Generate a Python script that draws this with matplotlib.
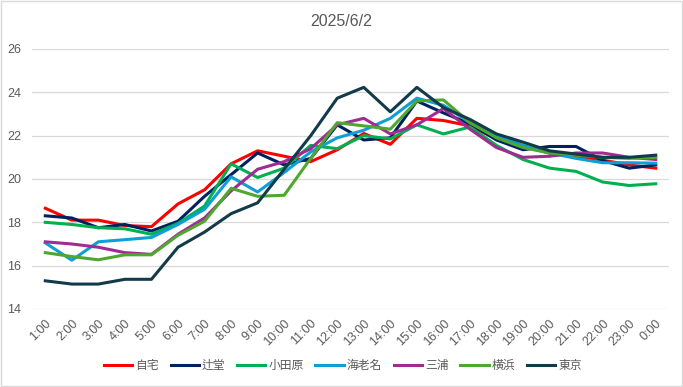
import matplotlib.pyplot as plt
from matplotlib.patches import Rectangle

plt.rcParams['font.family'] = ['Liberation Sans', 'Noto Sans CJK JP', 'DejaVu Sans']

hours = ['1:00', '2:00', '3:00', '4:00', '5:00', '6:00', '7:00', '8:00', '9:00', '10:00',
         '11:00', '12:00', '13:00', '14:00', '15:00', '16:00', '17:00', '18:00', '19:00',
         '20:00', '21:00', '22:00', '23:00', '0:00']

jitaku = [18.65, 18.1, 18.1, 17.85, 17.8, 18.85, 19.5, 20.7, 21.3, 21.05, 20.8, 21.35,
          22.1, 21.6, 22.8, 22.7, 22.45, 21.85, 21.5, 21.2, 21.05, 20.87, 20.65, 20.5]
tsujido = [18.3, 18.2, 17.75, 17.9, 17.6, 18.05, 19.2, 20.2, 21.2, 20.65, 20.95, 22.5,
           21.8, 21.9, 23.6, 23.05, 22.55, 21.8, 21.35, 21.5, 21.5, 20.85, 20.5, 20.65]
odawara = [18.0, 17.9, 17.75, 17.7, 17.45, 17.95, 18.75, 20.7, 20.07, 20.5, 21.55, 21.4,
           22.0, 21.85, 22.5, 22.08, 22.4, 21.55, 20.9, 20.5, 20.35, 19.86, 19.7, 19.78]
ebina = [17.05, 16.25, 17.1, 17.2, 17.3, 17.9, 18.6, 20.1, 19.4, 20.3, 21.25, 21.9,
         22.25, 22.8, 23.73, 23.4, 22.6, 22.0, 21.55, 21.2, 20.95, 20.75, 20.75, 20.73]
miura = [17.1, 17.0, 16.85, 16.6, 16.52, 17.45, 18.2, 19.45, 20.45, 20.8, 21.4, 22.5,
         22.8, 22.08, 22.5, 23.25, 22.3, 21.45, 21.0, 21.05, 21.2, 21.2, 21.0, 20.9]
yokohama = [16.6, 16.42, 16.27, 16.5, 16.5, 17.4, 18.05, 19.57, 19.2, 19.25, 20.95, 22.6,
            22.45, 22.3, 23.6, 23.65, 22.6, 21.9, 21.45, 21.2, 21.1, 21.0, 20.95, 21.0]
tokyo = [15.3, 15.15, 15.15, 15.37, 15.37, 16.85, 17.55, 18.4, 18.9, 20.45, 22.0, 23.73,
         24.23, 23.1, 24.23, 23.3, 22.75, 22.08, 21.7, 21.3, 21.15, 21.0, 21.0, 21.1]

names = ['自宅', '辻堂', '小田原', '海老名', '三浦', '横浜', '東京']
series = [jitaku, tsujido, odawara, ebina, miura, yokohama, tokyo]
colors = ['#FF0000', '#002060', '#00B050', '#0F9ED5', '#A02B93', '#4EA72E', '#123B4A']

fig = plt.figure(figsize=(6.83, 3.87), dpi=100)
ax = fig.add_axes([0.0469, 0.2016, 0.9326, 0.6718])

x = list(range(len(hours)))
for vals, name, c in zip(series, names, colors):
    ax.plot(x, vals, color=c, lw=2.2, label=name, solid_joinstyle='round')

ax.set_xlim(-0.5, len(hours) - 0.5)
ax.set_ylim(14, 26)
ax.set_yticks([14, 16, 18, 20, 22, 24, 26])
ax.set_xticks(x)
ax.set_xticklabels(hours, rotation=45, ha='right', va='top', rotation_mode='anchor')
ax.tick_params(axis='both', length=0, labelsize=9, labelcolor='#595959')
ax.tick_params(axis='x', pad=6)
ax.tick_params(axis='y', pad=8)
ax.grid(axis='y', color='#D9D9D9', lw=0.9)
ax.set_axisbelow(True)
for s in ax.spines.values():
    s.set_visible(False)

fig.text(0.5, 0.945, '2025/6/2', ha='center', va='center', fontsize=11.5, color='#595959')

fig.legend(loc='center', bbox_to_anchor=(0.502, 0.054), ncol=7, frameon=False,
           fontsize=8.5, labelcolor='#595959', handlelength=2.4, columnspacing=1.0,
           handletextpad=0.25)

fig.patches.append(Rectangle((0.001, 0.003), 0.997, 0.994, transform=fig.transFigure,
                             fill=False, edgecolor='#D9D9D9', lw=1))

fig.savefig('out.png', dpi=100)
